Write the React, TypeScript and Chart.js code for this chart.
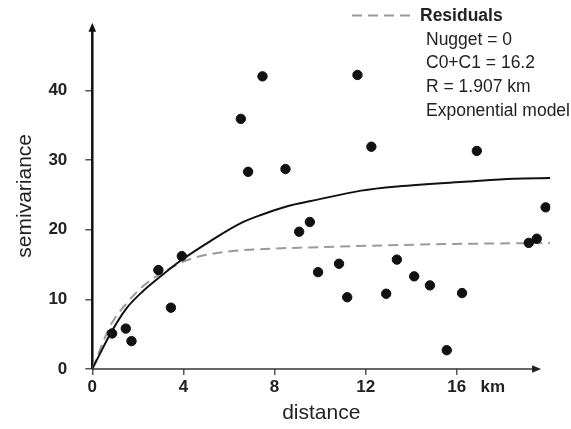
import React, { useEffect, useRef } from "react";
import { Chart, registerables } from "chart.js";

Chart.register(...registerables);

// Sample semivariogram points
const sampleDistance = [0.87, 1.47, 1.72, 2.9, 3.45, 3.93, 6.52, 6.84, 7.47, 8.48, 9.08, 9.55, 9.91, 10.83, 11.19, 11.64, 12.25, 12.9, 13.37, 14.13, 14.82, 15.56, 16.23, 16.88, 19.16, 19.51, 19.9];
const sampleSemivariance = [5.1, 5.8, 4.0, 14.2, 8.8, 16.2, 35.9, 28.3, 42.0, 28.7, 19.7, 21.1, 13.9, 15.1, 10.3, 42.2, 31.9, 10.8, 15.7, 13.3, 12.0, 2.7, 10.9, 31.3, 18.1, 18.7, 23.2];

// Fitted model curve (solid)
const modelDistance = [0, 0.8, 1.5, 2.2, 3.0, 3.9, 5.2, 6.5, 7.4, 8.6, 9.6, 11.8, 13.4, 16.5, 18.5, 20.1];
const modelSemivariance = [0, 5.1, 8.7, 11.1, 13.3, 15.6, 18.4, 20.9, 22.1, 23.4, 24.1, 25.6, 26.2, 26.9, 27.3, 27.4];

// Residuals curve (dashed)
const residualDistance = [0, 0.33, 0.77, 1.5, 2.2, 3.0, 3.55, 4.4, 5.9, 7.35, 9.5, 15, 20.1];
const residualSemivariance = [0, 2.7, 6.1, 9.4, 11.8, 13.7, 14.7, 15.9, 16.85, 17.2, 17.45, 17.9, 18.1];

// Ticks / axis texts
const xTicks = [0, 4, 8, 12, 16];
const yTicks = [0, 10, 20, 30, 40];
const xUnit = "km";
const xTitle = "distance";
const yTitle = "semivariance";
const legendTitle = "Residuals";
const legendLines = ["Nugget = 0", "C0+C1 = 16.2", "R = 1.907 km", "Exponential model"];

const X_MAX = 20.1;
const X_ARROW_END = 19.7;
const Y_MAX = 49.7;

const FONT = "'Liberation Sans', Arial, Helvetica, sans-serif";
const TEXT = "#222";

const decorPlugin = {
  id: "decor",
  beforeDatasetsDraw(chart: any) {
    const { ctx, chartArea, scales } = chart;
    const xs = scales.x;
    const left = chartArea.left;
    const bottom = chartArea.bottom;
    const top = chartArea.top;
    ctx.save();
    // y axis
    ctx.strokeStyle = "#111";
    ctx.fillStyle = "#111";
    ctx.lineWidth = 2.5;
    ctx.beginPath();
    ctx.moveTo(left, bottom);
    ctx.lineTo(left, top + 6);
    ctx.stroke();
    ctx.beginPath();
    ctx.moveTo(left, top);
    ctx.lineTo(left - 3.8, top + 9);
    ctx.lineTo(left + 3.8, top + 9);
    ctx.closePath();
    ctx.fill();
    // x axis
    const xEnd = xs.getPixelForValue(X_ARROW_END);
    ctx.strokeStyle = "#333";
    ctx.fillStyle = "#222";
    ctx.lineWidth = 1.5;
    ctx.beginPath();
    ctx.moveTo(left, bottom);
    ctx.lineTo(xEnd - 6, bottom);
    ctx.stroke();
    ctx.beginPath();
    ctx.moveTo(xEnd, bottom);
    ctx.lineTo(xEnd - 9, bottom - 3.8);
    ctx.lineTo(xEnd - 9, bottom + 3.8);
    ctx.closePath();
    ctx.fill();
    ctx.restore();
  },
  afterDraw(chart: any) {
    const { ctx, scales } = chart;
    const xs = scales.x;
    ctx.save();
    // km unit next to the 16 label
    ctx.font = `bold 17px ${FONT}`;
    ctx.fillStyle = TEXT;
    ctx.textAlign = "center";
    ctx.textBaseline = "middle";
    ctx.fillText(xUnit, xs.getPixelForValue(16) + 36, 387);

    // legend
    ctx.strokeStyle = "#9a9a9a";
    ctx.lineWidth = 2;
    ctx.setLineDash([10, 6]);
    ctx.beginPath();
    ctx.moveTo(352, 15.5);
    ctx.lineTo(412, 15.5);
    ctx.stroke();
    ctx.setLineDash([]);
    ctx.textAlign = "left";
    ctx.font = `bold 17.5px ${FONT}`;
    ctx.fillText(legendTitle, 420, 16);
    ctx.font = `17.5px ${FONT}`;
    legendLines.forEach((t, i) => {
      ctx.fillText(t, 426, 40 + i * 23.6);
    });
    ctx.restore();
  },
};

export default function App() {
  const ref = useRef<HTMLCanvasElement | null>(null);

  useEffect(() => {
    if (!ref.current) return;
    const chart = new Chart(ref.current, {
      type: "scatter",
      data: {
        datasets: [
          {
            label: "samples",
            data: sampleDistance.map((x, i) => ({ x, y: sampleSemivariance[i] })),
            backgroundColor: "#111",
            borderColor: "#111",
            pointRadius: 4.7,
            pointHoverRadius: 4.7,
            showLine: false,
          },
          {
            label: "model",
            type: "line",
            data: modelDistance.map((x, i) => ({ x, y: modelSemivariance[i] })),
            borderColor: "#111",
            borderWidth: 2,
            pointRadius: 0,
            fill: false,
            cubicInterpolationMode: "monotone",
          },
          {
            label: legendTitle,
            type: "line",
            data: residualDistance.map((x, i) => ({ x, y: residualSemivariance[i] })),
            borderColor: "#9a9a9a",
            borderWidth: 2,
            borderDash: [10, 6],
            pointRadius: 0,
            fill: false,
            cubicInterpolationMode: "monotone",
          },
        ],
      } as any,
      options: {
        animation: false,
        responsive: false,
        events: [],
        layout: { padding: { left: 0, right: 571 - 550.2, top: 22.7, bottom: 0 } },
        plugins: { legend: { display: false }, tooltip: { enabled: false } },
        scales: {
          x: {
            type: "linear",
            min: 0,
            max: X_MAX,
            afterBuildTicks: (s: any) => {
              s.ticks = xTicks.map((v) => ({ value: v }));
            },
            afterFit: (s: any) => {
              s.height = 429 - 369;
              s.paddingLeft = 0;
              s.paddingRight = 0;
            },
            grid: {
              display: true,
              drawOnChartArea: false,
              drawTicks: true,
              tickLength: 6,
              tickColor: "#555",
              lineWidth: 1.5,
            },
            border: { display: false },
            ticks: {
              padding: 2,
              color: TEXT,
              font: { family: FONT, size: 17, weight: "bold" },
              maxRotation: 0,
              autoSkip: false,
            },
            title: {
              display: true,
              text: xTitle,
              color: TEXT,
              font: { family: FONT, size: 21 },
              padding: { top: 0, bottom: 3 },
            },
          },
          y: {
            type: "linear",
            min: 0,
            max: Y_MAX,
            afterBuildTicks: (s: any) => {
              s.ticks = yTicks.map((v) => ({ value: v }));
            },
            afterFit: (s: any) => {
              s.width = 92.3;
              s.paddingTop = 0;
              s.paddingBottom = 0;
            },
            grid: {
              display: true,
              drawOnChartArea: false,
              drawTicks: true,
              tickLength: 7,
              tickColor: "#555",
              lineWidth: 1.5,
            },
            border: { display: false },
            ticks: {
              padding: 18,
              color: TEXT,
              font: { family: FONT, size: 17, weight: "bold" },
              autoSkip: false,
            },
            title: {
              display: true,
              text: yTitle,
              color: TEXT,
              font: { family: FONT, size: 21 },
              padding: { top: 13, bottom: 0 },
            },
          },
        },
      },
      plugins: [decorPlugin],
    } as any);
    return () => chart.destroy();
  }, []);

  return (
    <div style={{ position: "fixed", left: 0, top: 0, width: 571, height: 429, background: "#fff" }}>
      <canvas ref={ref} width={571} height={429} style={{ width: 571, height: 429, display: "block" }} />
    </div>
  );
}
